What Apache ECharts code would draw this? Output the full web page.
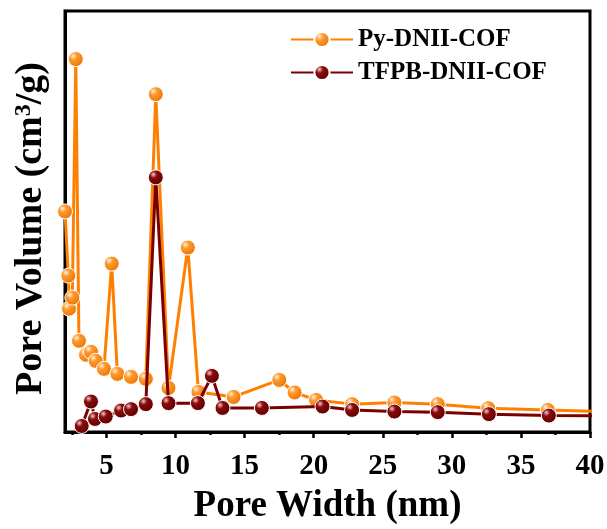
<!DOCTYPE html>
<html><head><meta charset="utf-8">
<script src="https://cdn.jsdelivr.net/npm/echarts@6/dist/echarts.min.js"></script>
<style>html,body{margin:0;padding:0;background:#fff}#c{width:607px;height:529px}</style>
</head><body><div id="c"></div>
<script>
// Pore width (nm) and pore volume (cm3/g, arbitrary scale)
const seriesNames = ['Py-DNII-COF', 'TFPB-DNII-COF'];
const pyX = [2.00, 2.24, 2.29, 2.53, 2.78, 3.01, 3.52, 3.88, 4.22, 4.82, 5.38, 5.79, 6.78, 7.85, 8.57, 9.49, 10.89, 11.66, 14.20, 17.51, 18.62, 20.17, 22.78, 25.84, 28.98, 32.63, 36.95, 43.0];
const pyY = [0.110, 0.078, 0.0615, 0.067, 0.186, 0.0455, 0.0385, 0.040, 0.0355, 0.0315, 0.084, 0.029, 0.0275, 0.0265, 0.1685, 0.022, 0.092, 0.020, 0.0175, 0.026, 0.0197, 0.016, 0.0139, 0.0147, 0.0139, 0.0119, 0.011, 0.0098];
const tfX = [3.21, 3.88, 4.17, 4.95, 6.06, 6.78, 7.85, 8.57, 9.49, 11.62, 12.63, 13.40, 16.25, 20.64, 22.78, 25.84, 28.98, 32.68, 37.02, 43.0];
const tfY = [0.003, 0.0152, 0.0065, 0.0077, 0.0107, 0.0114, 0.0139, 0.127, 0.0144, 0.0144, 0.028, 0.012, 0.012, 0.0127, 0.011, 0.0102, 0.0099, 0.0089, 0.0082, 0.0080];
const majorTicks = [5, 10, 15, 20, 25, 30, 35, 40];
const minorTicks = [2.5, 7.5, 12.5, 17.5, 22.5, 27.5, 32.5, 37.5];

const FONT = '"Liberation Serif", "Times New Roman", serif';
const chart = echarts.init(document.getElementById('c'));
function sphere(light, mid, dark) {
  return new echarts.graphic.RadialGradient(0.35, 0.32, 0.75, [
    {offset: 0, color: light}, {offset: 0.3, color: mid}, {offset: 1, color: dark}
  ]);
}
const zip = (xs, ys) => xs.map((x, i) => [x, ys[i]]);
chart.setOption({
  animation: false,
  backgroundColor: '#fff',
  grid: {left: 65, right: 17, top: 11, bottom: 97, outerBoundsMode: 'none', containLabel: false,
    show: true, borderColor: '#000', borderWidth: 3, backgroundColor: 'transparent'},
  legend: {
    orient: 'vertical', left: 285, top: 22, itemWidth: 62, itemHeight: 19, itemGap: 8,
    data: seriesNames,
    textStyle: {fontFamily: FONT, fontWeight: 'bold', fontSize: 25, color: '#000'}
  },
  xAxis: [{
    type: 'value', min: 2, max: 40, position: 'bottom',
    name: 'Pore Width (nm)', nameLocation: 'middle', nameGap: 56,
    nameTextStyle: {fontFamily: FONT, fontWeight: 'bold', fontSize: 37, color: '#000'},
    axisLine: {show: true, lineStyle: {color: '#000', width: 3}},
    axisTick: {show: true, customValues: majorTicks, length: 6, lineStyle: {color: '#000', width: 2.5}},
    axisLabel: {customValues: majorTicks, margin: 20, fontFamily: FONT, fontWeight: 'bold', fontSize: 29, color: '#000'},
    splitLine: {show: false}
  }, {
    type: 'value', min: 2, max: 40, position: 'bottom',
    axisLine: {show: false},
    axisTick: {show: true, customValues: minorTicks, length: 3, lineStyle: {color: '#000', width: 2.5}},
    axisLabel: {show: false},
    splitLine: {show: false}
  }],
  yAxis: {
    type: 'value', min: 0, max: 0.21,
    name: 'Pore Volume (cm{sup|3}/g)', nameLocation: 'middle', nameGap: 15, nameRotate: 90,
    nameTextStyle: {fontFamily: FONT, fontWeight: 'bold', fontSize: 38, color: '#000', padding: [0, 14, 0, 0],
      rich: {sup: {fontFamily: FONT, fontWeight: 'bold', fontSize: 24, color: '#000', verticalAlign: 'top', padding: [0, 0, 14, 0]}}},
    axisLine: {show: true, lineStyle: {color: '#000', width: 3}},
    axisTick: {show: false}, axisLabel: {show: false}, splitLine: {show: false}
  },
  series: [{
    name: seriesNames[0], type: 'line', data: zip(pyX, pyY),
    symbol: 'circle', symbolSize: 15,
    lineStyle: {color: '#FF8000', width: 3},
    itemStyle: {color: sphere('#FFF4E0', '#FF9A2E', '#E87000'), borderColor: '#fff', borderWidth: 1},
    z: 2
  }, {
    name: seriesNames[1], type: 'line', data: zip(tfX, tfY),
    symbol: 'circle', symbolSize: 15,
    lineStyle: {color: '#7A0000', width: 3},
    itemStyle: {color: sphere('#F0C8C8', '#8A0A0A', '#5A0000'), borderColor: '#fff', borderWidth: 1},
    z: 3
  }]
});
</script>
</body></html>
